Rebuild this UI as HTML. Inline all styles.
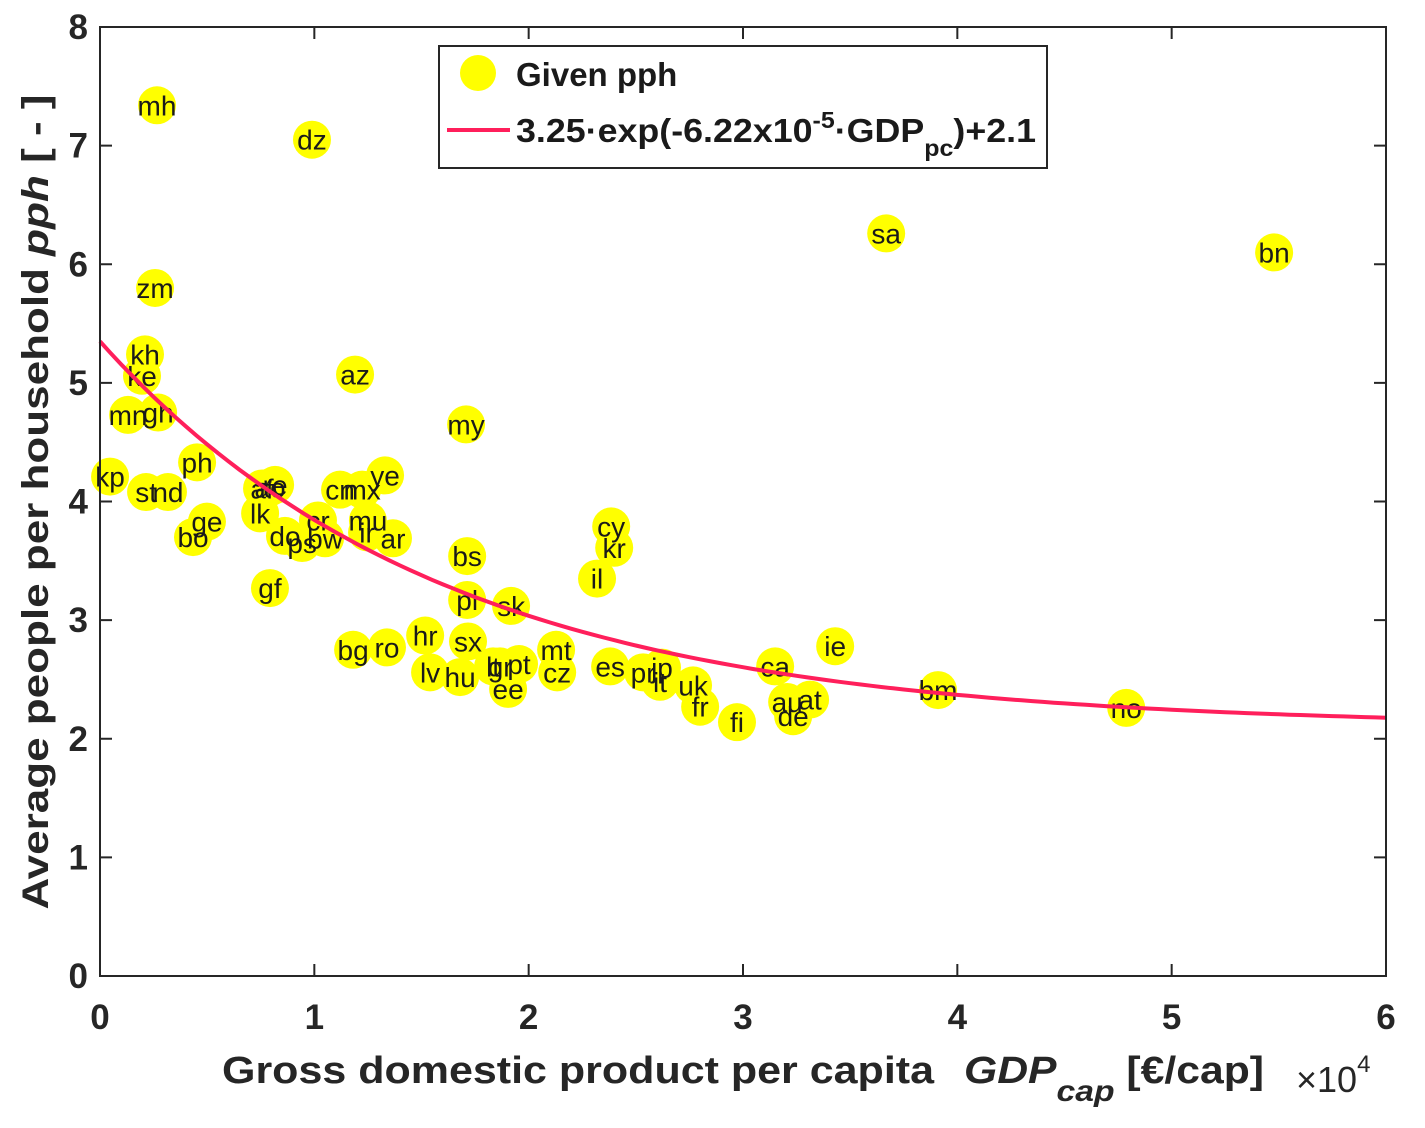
<!DOCTYPE html>
<html><head><meta charset="utf-8"><style>
html,body{margin:0;padding:0;background:#fff;}
svg{display:block;font-family:"Liberation Sans",sans-serif;}
</style></head><body>
<svg id="chart" width="1425" height="1128" viewBox="0 0 1425 1128">
<rect x="0" y="0" width="1425" height="1128" fill="#fff"/>
<g id="marks"></g>
<g id="axes"></g>
<text x="222" y="1083" font-size="38" font-weight="bold" fill="#262626" textLength="712" lengthAdjust="spacingAndGlyphs">Gross domestic product per capita</text>
<text x="964" y="1083" font-size="38" font-weight="bold" font-style="italic" fill="#262626" textLength="300" lengthAdjust="spacingAndGlyphs">GDP<tspan font-size="30" dy="18">cap</tspan><tspan dy="-18" font-style="normal"> [€/cap]</tspan></text>
<text x="1296" y="1092" font-size="36" fill="#262626">×10<tspan font-size="24" dy="-20">4</tspan></text>
<text transform="translate(48,502) rotate(-90)" text-anchor="middle" font-size="37" font-weight="bold" fill="#262626" textLength="815" lengthAdjust="spacingAndGlyphs">Average people per household  <tspan font-style="italic">pph</tspan> [ - ]</text>
<g>
<rect x="439" y="46" width="608" height="122" fill="#fff" stroke="#262626" stroke-width="2"/>
<circle cx="478" cy="73" r="18" fill="#ffff00"/>
<text x="516" y="86" font-size="33" font-weight="bold" fill="#1a1a1a">Given pph</text>
<line x1="447" y1="130" x2="510" y2="130" stroke="#ff1f5b" stroke-width="4"/>
<text x="516" y="142" font-size="33" font-weight="bold" fill="#1a1a1a" textLength="520" lengthAdjust="spacingAndGlyphs">3.25·exp(-6.22x10<tspan font-size="23" dy="-14">-5</tspan><tspan dy="14">·GDP</tspan><tspan font-size="23" dy="14">pc</tspan><tspan dy="-14">)+2.1</tspan></text>
</g>
</svg>
<script>
const labels=["mh","dz","zm","kh","ke","mn","gh","ph","kp","st","nd","ge","bo","af","ao","re","lk","do","ps","bw","cr","cn","mx","ye","mu","ir","ar","az","my","bs","gf","pl","sk","cy","kr","il","bg","ro","hr","sx","lv","hu","lt","gr","pt","ee","mt","cz","es","pr","jp","it","uk","fr","fi","ca","ie","au","at","de","sa","bm","no","bn"];
const gdp=[2660,9890,2570,2100,1960,1310,2710,4530,470,2150,3170,4990,4340,7560,7930,8170,7470,8630,9430,10500,10170,11200,12230,13300,12500,12460,13670,11900,17080,17130,7930,17130,19180,23850,23990,23190,11810,13390,15170,17170,15400,16800,18340,18670,19550,19040,21280,21330,23800,25340,26220,26130,27670,28000,29720,31500,34300,32060,33130,32340,36680,39100,47880,54780];
const pph=[7.34,7.05,5.80,5.24,5.06,4.73,4.75,4.33,4.21,4.08,4.08,3.83,3.70,4.11,4.12,4.14,3.90,3.71,3.65,3.69,3.84,4.10,4.10,4.22,3.84,3.74,3.69,5.07,4.65,3.54,3.27,3.17,3.12,3.79,3.61,3.35,2.75,2.77,2.87,2.82,2.56,2.52,2.61,2.61,2.63,2.42,2.75,2.56,2.61,2.56,2.60,2.48,2.45,2.27,2.14,2.61,2.78,2.31,2.33,2.19,6.26,2.41,2.26,6.10];
const xTicks=[0,1,2,3,4,5,6];
const yTicks=[0,1,2,3,4,5,6,7,8];
const fitA=3.25, fitB=6.22e-5, fitC=2.1;

const NS="http://www.w3.org/2000/svg";
const X0=100,X1=1386,Y0=976,Y1=27;
const sx=v=>X0+(v/60000)*(X1-X0);
const sy=v=>Y0-(v/8)*(Y0-Y1);
function mk(t,a,p){const e=document.createElementNS(NS,t);for(const k in a)e.setAttribute(k,a[k]);p.appendChild(e);return e;}
const marks=document.getElementById('marks'), axes=document.getElementById('axes');
const cg=mk('g',{},marks);
for(let i=0;i<gdp.length;i++){
  const c=mk('circle',{cx:sx(gdp[i]),cy:sy(pph[i]),r:19,fill:'#ffff00'},cg);
  
  
}
const lg=mk('g',{},marks);
for(let i=0;i<gdp.length;i++){
  const t=mk('text',{x:sx(gdp[i]),y:sy(pph[i])+10,'text-anchor':'middle','font-size':28,fill:'#1a1a1a'},lg);
  t.textContent=labels[i];
  
  
}
let d='';
for(let g=0;g<=60000;g+=500){const v=fitA*Math.exp(-fitB*g)+fitC;d+=(g?'L':'M')+sx(g).toFixed(1)+' '+sy(v).toFixed(1);}
const fl=mk('path',{d:d,fill:'none',stroke:'#ff1f5b','stroke-width':4},marks);


const fr=mk('rect',{x:X0,y:Y1,width:X1-X0,height:Y0-Y1,fill:'none',stroke:'#262626','stroke-width':2},axes);


xTicks.forEach(v=>{
  const x=sx(v*10000);
  mk('line',{x1:x,y1:Y0,x2:x,y2:Y0-12,stroke:'#262626','stroke-width':2},axes);
  mk('line',{x1:x,y1:Y1,x2:x,y2:Y1+12,stroke:'#262626','stroke-width':2},axes);
  const t=mk('text',{x:x,y:1029,'text-anchor':'middle','font-size':35,'font-weight':'bold',fill:'#262626'},axes);
  t.textContent=v;
  
  
});
yTicks.forEach(v=>{
  const y=sy(v);
  mk('line',{x1:X0,y1:y,x2:X0+12,y2:y,stroke:'#262626','stroke-width':2},axes);
  mk('line',{x1:X1,y1:y,x2:X1-12,y2:y,stroke:'#262626','stroke-width':2},axes);
  const t=mk('text',{x:88,y:y+12,'text-anchor':'end','font-size':35,'font-weight':'bold',fill:'#262626'},axes);
  t.textContent=v;
  
  
});
</script>
</body></html>
